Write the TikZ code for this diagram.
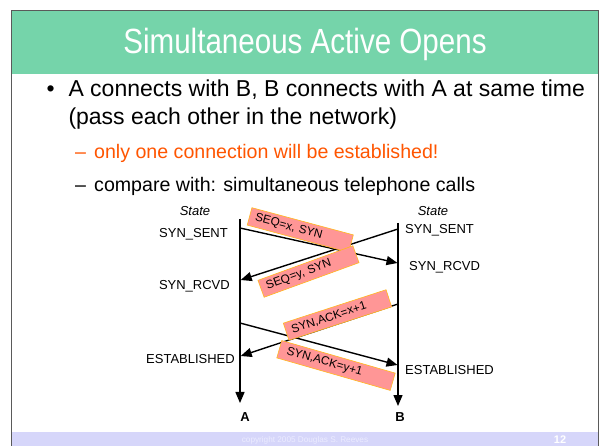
\documentclass[tikz,border=0pt]{standalone}
\usepackage{fontspec}
\usepackage{graphicx}
\setmainfont{Liberation Sans}
\usetikzlibrary{arrows.meta}

\definecolor{titlegreen}{RGB}{117,212,170}
\definecolor{footlav}{RGB}{214,214,250}
\definecolor{foottext}{RGB}{236,236,255}
\definecolor{alertorange}{RGB}{255,85,0}
\definecolor{msgfill}{RGB}{255,150,150}
\definecolor{msgedge}{RGB}{255,185,30}
\definecolor{framegray}{RGB}{90,90,90}

\begin{document}
\begin{tikzpicture}[x=1pt,y=-1pt,
  plain/.style={inner sep=0pt, anchor=base west},
  bodytext/.style={plain, font=\fontsize{23}{27}\selectfont},
  subtext/.style={plain, font=\fontsize{19.6}{23}\selectfont},
  statelabel/.style={inner sep=0pt, font=\fontsize{13}{15}\selectfont},
  msgbox/.style={draw=msgedge, fill=msgfill, line width=0.6pt,
    font=\fontsize{11.8}{14}\selectfont, inner xsep=6pt, inner ysep=0pt,
    minimum height=18pt, align=left},
  msgarrow/.style={line width=1.4pt, -{Triangle[length=11pt,width=9pt]}},
  lifeline/.style={line width=1.4pt, -{Triangle[length=11pt,width=9pt]}},
]
\useasboundingbox (0,0) rectangle (600,446);
\fill[white] (0,0) rectangle (600,446);

% slide frame, title band and footer band
\fill[titlegreen] (11,10) rectangle (598,74);
\fill[footlav] (11,432) rectangle (598,446);
\draw[framegray, line width=0.8pt] (11,446) -- (11,10) -- (598,10) -- (598,446);

\node[anchor=base, inner sep=0pt, text=white, font=\fontsize{35}{40}\selectfont]
  (title) at (305,53.6) {\scalebox{0.845}[1]{Simultaneous Active Opens}};

% bullet list
\node[bodytext] (dot) at (46.5,96.8) {\textbullet};
\node[bodytext] (b1) at (68.3,96.8) {A connects with B, B connects with A at same time};
\node[bodytext] (b2) at (68.3,124.3) {(pass each other in the network)};
\node[subtext, text=alertorange] (d1) at (75,158.3) {–};
\node[subtext, text=alertorange] (s1) at (94,158.3) {only one connection will be established!};
\node[subtext] (d2) at (75,191.3) {–};
\node[subtext] (s2) at (94,191.3) {compare with: simultaneous telephone calls};

% lifelines of the two hosts
\coordinate (Atop) at (240,219);
\coordinate (Abot) at (240,403);
\coordinate (Btop) at (398,223);
\coordinate (Bbot) at (398,406);
\draw[lifeline] (Atop) -- (Abot);
\draw[lifeline] (Btop) -- (Bbot);

% message end points
\coordinate (a1) at (240,228);
\coordinate (b1e) at (397.5,263);
\coordinate (b2) at (398,229);
\coordinate (a2e) at (240.7,280);
\coordinate (a3) at (240,323);
\coordinate (b3e) at (397.5,365);
\coordinate (b4) at (398,304);
\coordinate (a4e) at (240.7,356);

\draw[msgarrow] (a1) -- (b1e);
\draw[msgarrow] (b2) -- (a2e);
\draw[msgarrow] (a3) -- (b3e);
\draw[msgarrow] (b4) -- (a4e);

% message labels
\node[msgbox, rotate=-15, text width=93pt] (m1) at (300.3,230) {SEQ=x, SYN};
\node[msgbox, rotate=20, text width=89pt] (m2) at (308.5,271.5) {SEQ=y, SYN};
\node[msgbox, rotate=18, text width=96pt] (m3) at (337.5,315) {SYN,ACK=x+1};
\node[msgbox, rotate=-16, inner xsep=8pt, text width=102pt] (m4) at (336,365.5) {SYN,ACK=y+1};

% state names
\node[statelabel, font=\fontsize{13}{15}\selectfont\itshape, anchor=base] (stA) at (195,215.5) {State};
\node[statelabel, font=\fontsize{13}{15}\selectfont\itshape, anchor=base] (stB) at (433,215.5) {State};
\node[statelabel, anchor=base east] (sA1) at (228,237.7) {SYN\_SENT};
\node[statelabel, anchor=base east] (sA2) at (230,289.7) {SYN\_RCVD};
\node[statelabel, anchor=base east] (sA3) at (235,363.7) {ESTABLISHED};
\node[statelabel, anchor=base west] (sB1) at (405,233.7) {SYN\_SENT};
\node[statelabel, anchor=base west] (sB2) at (409,270.7) {SYN\_RCVD};
\node[statelabel, anchor=base west] (sB3) at (405,374.7) {ESTABLISHED};

% host names
\node[statelabel, font=\fontsize{13}{15}\selectfont\bfseries, anchor=base] (hA) at (245,421.7) {A};
\node[statelabel, font=\fontsize{13}{15}\selectfont\bfseries, anchor=base] (hB) at (400,421.7) {B};

% footer
\node[anchor=base, inner sep=0pt, text=foottext, font=\fontsize{8.2}{10}\selectfont]
  (copy) at (305,442) {copyright 2005 Douglas S. Reeves};
\node[anchor=base, inner sep=0pt, text=white, font=\fontsize{11}{13}\selectfont\bfseries]
  (page) at (560,443) {12};
\end{tikzpicture}
\end{document}
